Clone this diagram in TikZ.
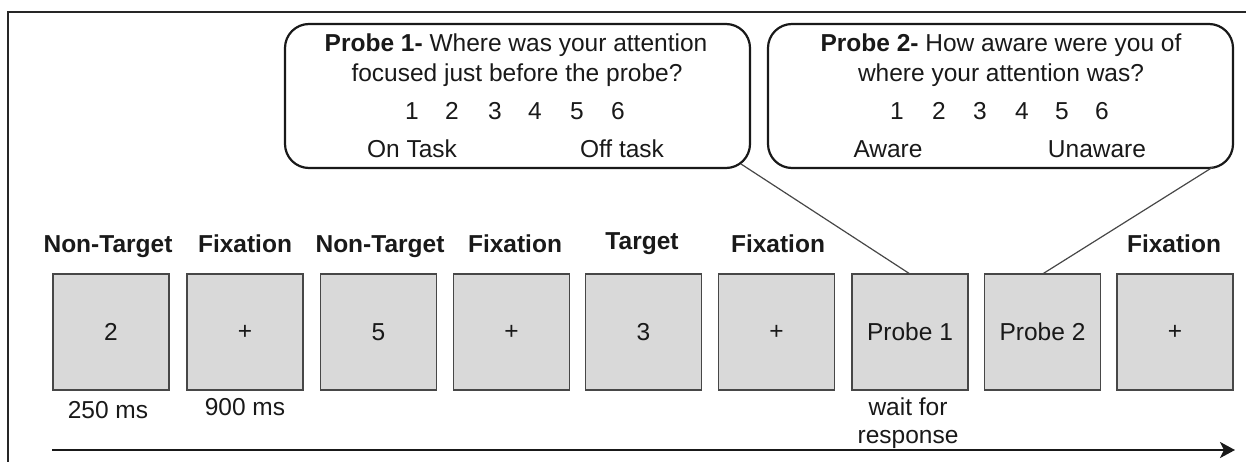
\documentclass[tikz,border=0pt]{standalone}
\usepackage{fontspec}
\setmainfont{Liberation Sans}
\usetikzlibrary{arrows.meta,calc}
\begin{document}
\begin{tikzpicture}[x=1pt,y=-1pt,
  every node/.style={inner sep=0pt, outer sep=0pt, text=black!90},
  txt/.style={font=\fontsize{24.5}{28}\selectfont},
  trial/.style={txt, draw=black!72, fill=black!15, line width=1.4pt,
    minimum width=116pt, minimum height=116pt},
  toplabel/.style={txt, font=\fontsize{24.5}{28}\selectfont\bfseries, anchor=base},
  sublabel/.style={txt, anchor=base},
  bubble/.style={draw=black!90, line width=2.2pt, rounded corners=24pt,
    minimum width=465pt, minimum height=144pt},
  pointer/.style={draw=black!72, line width=1.2pt},
  timeline/.style={draw=black!90, line width=2.8pt,
    -{Stealth[length=15pt,width=16pt,inset=4pt]}},
  frameline/.style={draw=black!85, line width=2pt}
]
\useasboundingbox (0,0) rectangle (1246,462);

% outer frame (top and left edges)
\draw[frameline] (8,462) -- (8,12) -- (1246,12);

% stimulus sequence
\node[trial] (b1) at (111,332)    {2};
\node[trial] (b2) at (245,332)    {+};
\node[trial] (b3) at (378.5,332)  {5};
\node[trial] (b4) at (511.5,332)  {+};
\node[trial] (b5) at (643.5,332)  {3};
\node[trial] (b6) at (776.5,332)  {+};
\node[trial] (b7) at (910,332)    {Probe 1};
\node[trial] (b8) at (1042.5,332) {Probe 2};
\node[trial] (b9) at (1175,332)   {+};

% stimulus names
\node[toplabel] (t1) at (108,252)  {Non-Target};
\node[toplabel] (t2) at (245,252)  {Fixation};
\node[toplabel] (t3) at (380,252)  {Non-Target};
\node[toplabel] (t4) at (515,252)  {Fixation};
\node[toplabel] (t5) at (642,250)  {Target};
\node[toplabel] (t6) at (778,252)  {Fixation};
\node[toplabel] (t9) at (1174,252) {Fixation};

% durations
\node[sublabel] (d1) at (108,418) {250 ms};
\node[sublabel] (d2) at (245,415) {900 ms};
\node[sublabel] (d7a) at (908,415) {wait for};
\node[sublabel] (d7b) at (908,443) {response};

% probe question bubbles
\node[bubble] (c1) at (517.5,96) {};
\node[txt, anchor=base] (q1a) at (516,52) {\textbf{Probe 1-} Where was your attention};
\node[txt, anchor=base] (q1b) at (517,82) {focused just before the probe?};
\foreach \n/\x in {1/412,2/452,3/495,4/535,5/577,6/618}
  \node[txt, anchor=base] (s1n\n) at (\x,120) {\n};
\node[txt, anchor=base] (s1lo) at (412,158) {On Task};
\node[txt, anchor=base] (s1hi) at (622,158) {Off task};

\node[bubble] (c2) at (1000.5,96) {};
\node[txt, anchor=base] (q2a) at (1001,52) {\textbf{Probe 2-} How aware were you of};
\node[txt, anchor=base] (q2b) at (1001,82) {where your attention was?};
\foreach \n/\x in {1/897,2/939,3/980,4/1022,5/1062,6/1102}
  \node[txt, anchor=base] (s2n\n) at (\x,120) {\n};
\node[txt, anchor=base] (s2lo) at (888,158) {Aware};
\node[txt, anchor=base] (s2hi) at (1097,158) {Unaware};

% pointers from bubbles to probe screens
\coordinate (c1tail) at ($(c1.south east)+(-9,-4)$);
\coordinate (c2tail) at ($(c2.south east)+(-20,-1)$);
\draw[pointer] (c1tail) -- (b7.north);
\draw[pointer] (c2tail) -- (b8.north);

% time axis
\coordinate (tstart) at (52,450);
\coordinate (tend) at (1235,450);
\draw[timeline] (tstart) -- (tend);
\end{tikzpicture}
\end{document}
